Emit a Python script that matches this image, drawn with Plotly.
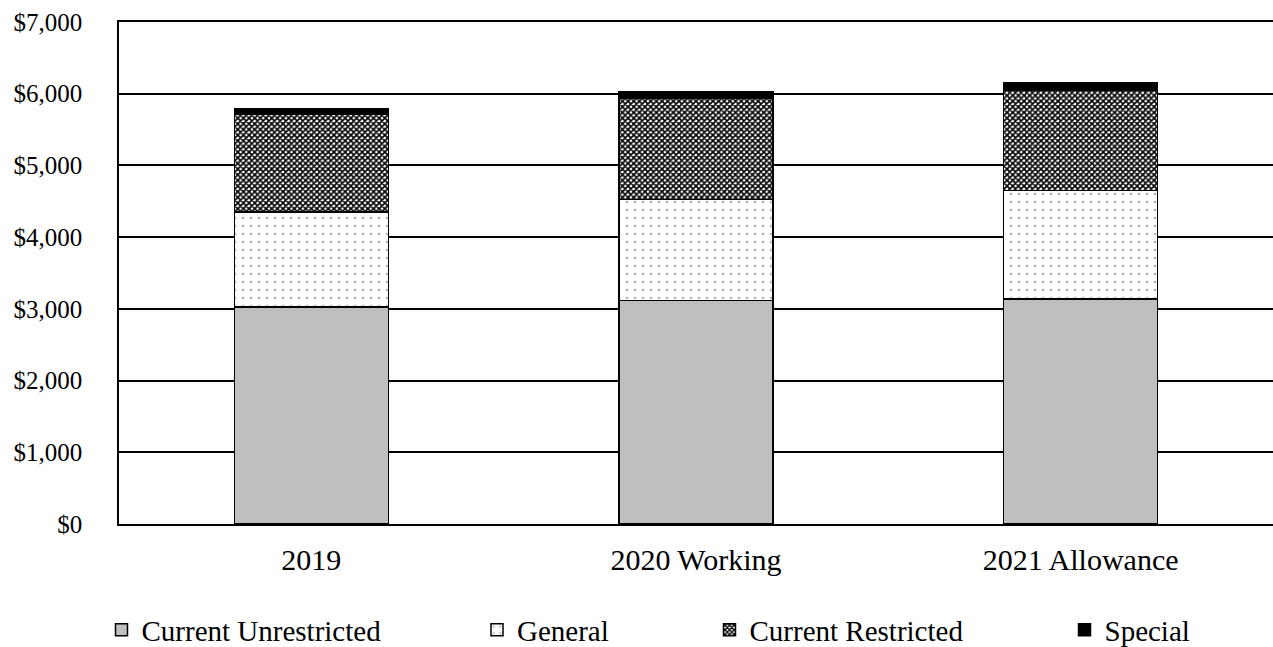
import plotly.graph_objects as go

categories = ["2019", "2020 Working", "2021 Allowance"]
current_unrestricted = [3024, 3117, 3141]
general = [1325, 1409, 1510]
current_restricted = [1362, 1404, 1399]
special = [80, 98, 103]

y_ticks = [0, 1000, 2000, 3000, 4000, 5000, 6000, 7000]
y_tick_labels = ["$0", "$1,000", "$2,000", "$3,000", "$4,000", "$5,000", "$6,000", "$7,000"]

FONT = "Liberation Serif, Times New Roman, serif"
W, H = 1273, 647
ML, MR, MT, MB = 119, 0, 22, 123
PW = W - ML - MR
PH = H - MT - MB


def lx(center_px):
    return (center_px - 26 - ML) / PW


line = dict(color="black", width=1.5)
fig = go.Figure()
fig.add_trace(go.Bar(
    x=categories, y=current_unrestricted, name="Current Unrestricted",
    marker=dict(color="#BFBFBF", line=line), legend="legend", showlegend=True,
))
fig.add_trace(go.Bar(
    x=categories, y=general, name="General",
    marker=dict(color="white", line=line,
                pattern=dict(shape=".", fgcolor="#B5B5B5", bgcolor="white",
                             size=8, solidity=0.09, fillmode="replace")),
    legend="legend2", showlegend=True,
))
fig.add_trace(go.Bar(
    x=categories, y=current_restricted, name="Current Restricted",
    marker=dict(color="white", line=line,
                pattern=dict(shape="x", fgcolor="black", bgcolor="white",
                             size=4, solidity=0.65, fillmode="replace")),
    legend="legend3", showlegend=True,
))
fig.add_trace(go.Bar(
    x=categories, y=special, name="Special",
    marker=dict(color="black", line=line), legend="legend4", showlegend=True,
))

leg_y = -(630 - (H - MB)) / PH
leg_common = dict(orientation="h", yanchor="middle", y=leg_y,
                  xanchor="left",
                  font=dict(family=FONT, size=29, color="black"),
                  bgcolor="rgba(0,0,0,0)", borderwidth=0, itemwidth=30)

fig.update_layout(
    width=W, height=H,
    margin=dict(l=ML, r=MR, t=MT, b=MB, pad=0, autoexpand=False),
    paper_bgcolor="white", plot_bgcolor="white",
    barmode="stack", bargap=0.6, showlegend=True,
    font=dict(family=FONT, color="black"),
    legend=dict(x=lx(127.5), **leg_common),
    legend2=dict(x=lx(503), **leg_common),
    legend3=dict(x=lx(735.5), **leg_common),
    legend4=dict(x=lx(1090.5), **leg_common),
    xaxis=dict(
        showline=True, linecolor="black", linewidth=1.5, mirror=True,
        ticks="", showgrid=False, automargin=False,
        tickfont=dict(family=FONT, size=30, color="black"),
        ticklabelstandoff=8,
    ),
    yaxis=dict(
        range=[0, 7000], tickvals=y_ticks, ticktext=y_tick_labels,
        showline=True, linecolor="black", linewidth=1.5,
        showgrid=True, gridcolor="black", gridwidth=1.5,
        zeroline=False, ticks="", automargin=False,
        tickfont=dict(family=FONT, size=25, color="black"),
        ticklabelstandoff=30,
    ),
)

fig.write_html("out.html")
